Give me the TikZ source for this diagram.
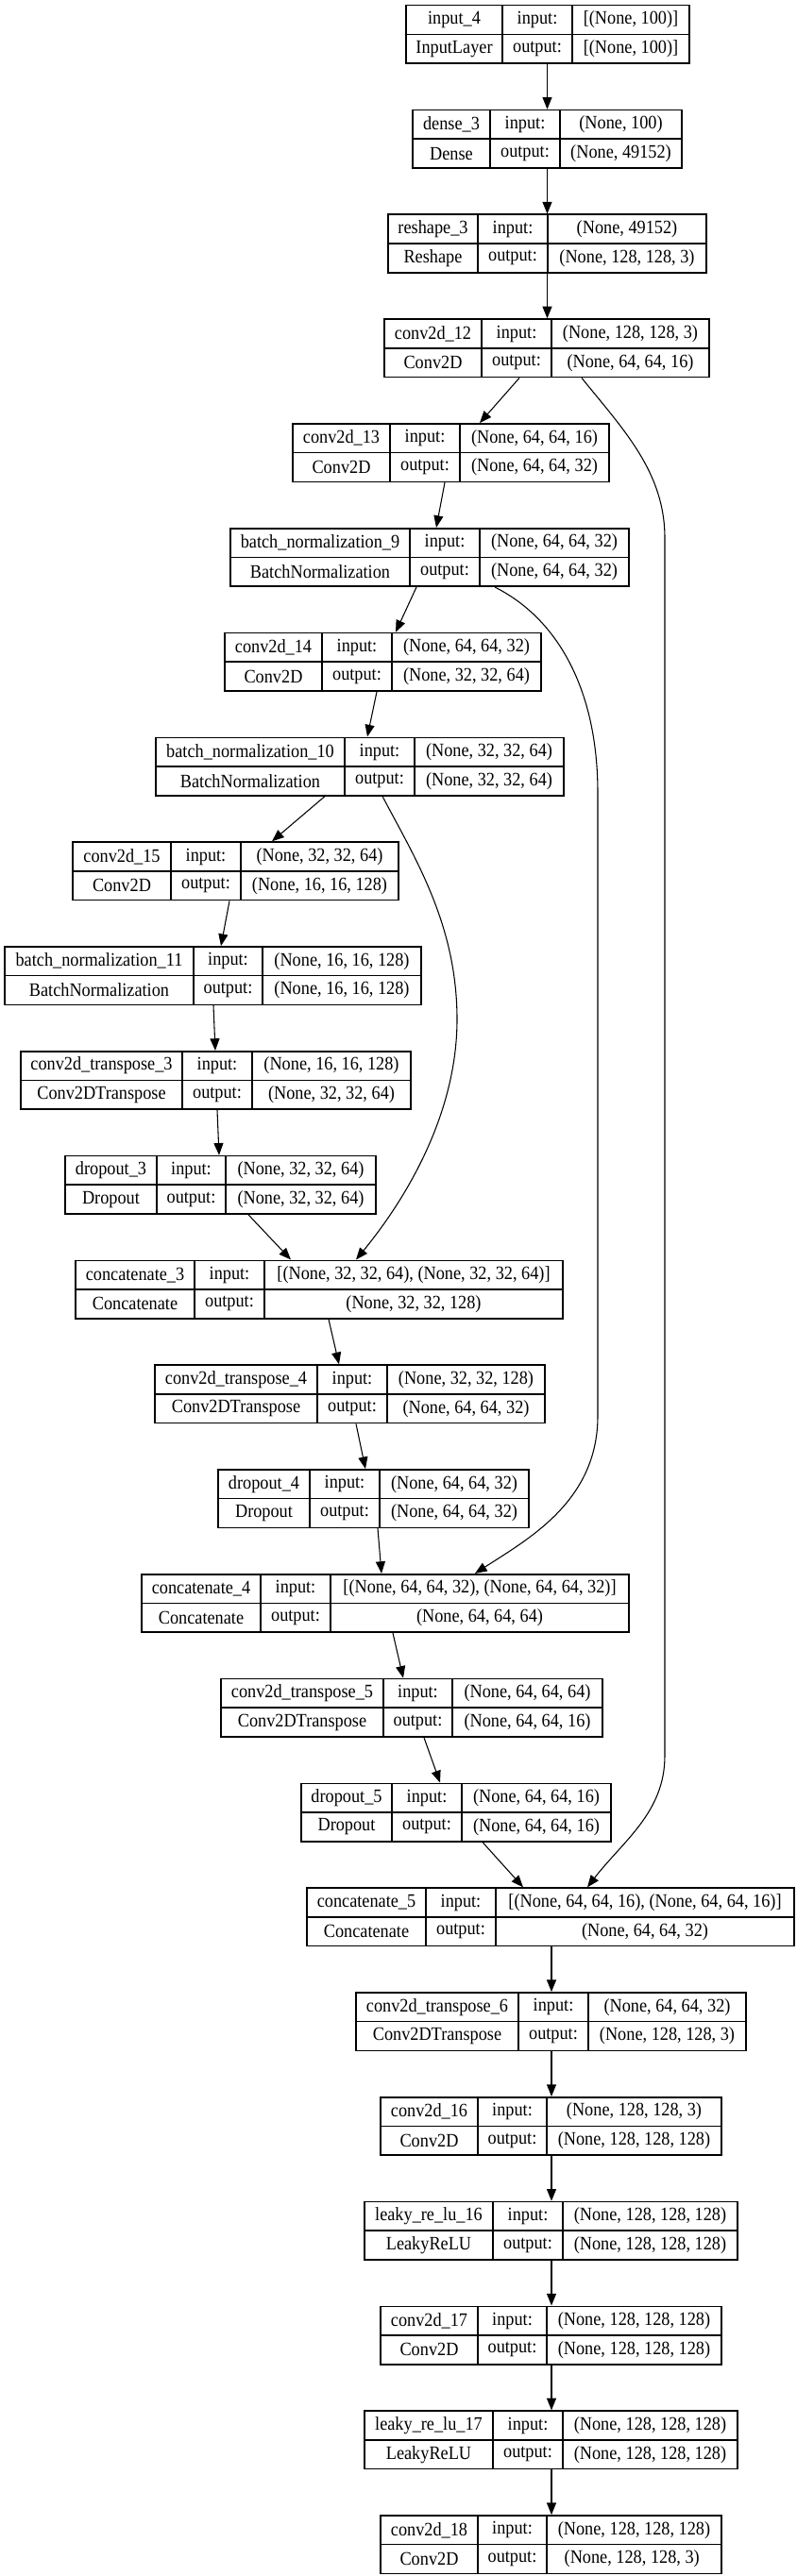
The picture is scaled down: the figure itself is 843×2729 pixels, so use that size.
\documentclass[tikz,border=0pt]{standalone}
\usepackage{fontspec}
\setmainfont{Liberation Serif}
\usetikzlibrary{arrows.meta,positioning,calc,fit}
\tikzset{
  layer/.style={draw,line width=1.2pt,inner sep=0pt},
  cell/.style={line width=1.2pt},
  txt/.style={font=\fontsize{13.7}{16}\selectfont,inner sep=0pt},
  edge/.style={line width=0.8pt,-{Triangle[length=9.5pt,width=7.5pt]}}
}
\newcommand\tallt[1]{\scalebox{1}[1.1]{#1}}
\begin{document}
\begin{tikzpicture}[x=0.75pt,y=0.75pt]
\useasboundingbox (0,0) rectangle (843,-2729);
\foreach \id/\row/\xl/\xa/\xb/\xr/\nm/\cl/\inp/\outp in {
input4/1/430/532/606/730/input\_4/InputLayer/{[(None, 100)]}/{[(None, 100)]},
dense3/2/437/519/593/722/dense\_3/Dense/{(None, 100)}/{(None, 49152)},
reshape3/3/411/506/580/748/reshape\_3/Reshape/{(None, 49152)}/{(None, 128, 128, 3)},
conv12/4/407/510/584/751/conv2d\_12/Conv2D/{(None, 128, 128, 3)}/{(None, 64, 64, 16)},
conv13/5/310/413/487/645/conv2d\_13/Conv2D/{(None, 64, 64, 16)}/{(None, 64, 64, 32)},
bn9/6/244/434/508/666/batch\_normalization\_9/BatchNormalization/{(None, 64, 64, 32)}/{(None, 64, 64, 32)},
conv14/7/238/341/415/573/conv2d\_14/Conv2D/{(None, 64, 64, 32)}/{(None, 32, 32, 64)},
bn10/8/165/365/439/597/batch\_normalization\_10/BatchNormalization/{(None, 32, 32, 64)}/{(None, 32, 32, 64)},
conv15/9/77/181/255/422/conv2d\_15/Conv2D/{(None, 32, 32, 64)}/{(None, 16, 16, 128)},
bn11/10/5/205/278/446/batch\_normalization\_11/BatchNormalization/{(None, 16, 16, 128)}/{(None, 16, 16, 128)},
convt3/11/22/193/267/435/conv2d\_transpose\_3/Conv2DTranspose/{(None, 16, 16, 128)}/{(None, 32, 32, 64)},
drop3/12/69/166/239/398/dropout\_3/Dropout/{(None, 32, 32, 64)}/{(None, 32, 32, 64)},
cat3/13/80/206/280/596/concatenate\_3/Concatenate/{[(None, 32, 32, 64), (None, 32, 32, 64)]}/{(None, 32, 32, 128)},
convt4/14/164/336/410/577/conv2d\_transpose\_4/Conv2DTranspose/{(None, 32, 32, 128)}/{(None, 64, 64, 32)},
drop4/15/231/328/402/560/dropout\_4/Dropout/{(None, 64, 64, 32)}/{(None, 64, 64, 32)},
cat4/16/150/276/350/666/concatenate\_4/Concatenate/{[(None, 64, 64, 32), (None, 64, 64, 32)]}/{(None, 64, 64, 64)},
convt5/17/234/406/479/638/conv2d\_transpose\_5/Conv2DTranspose/{(None, 64, 64, 64)}/{(None, 64, 64, 16)},
drop5/18/319/415/489/647/dropout\_5/Dropout/{(None, 64, 64, 16)}/{(None, 64, 64, 16)},
cat5/19/325/451/525/841/concatenate\_5/Concatenate/{[(None, 64, 64, 16), (None, 64, 64, 16)]}/{(None, 64, 64, 32)},
convt6/20/377/549/623/790/conv2d\_transpose\_6/Conv2DTranspose/{(None, 64, 64, 32)}/{(None, 128, 128, 3)},
conv16/21/403/506/579/764/conv2d\_16/Conv2D/{(None, 128, 128, 3)}/{(None, 128, 128, 128)},
leaky16/22/386/522/596/781/leaky\_re\_lu\_16/LeakyReLU/{(None, 128, 128, 128)}/{(None, 128, 128, 128)},
conv17/23/403/506/579/764/conv2d\_17/Conv2D/{(None, 128, 128, 128)}/{(None, 128, 128, 128)},
leaky17/24/386/522/596/781/leaky\_re\_lu\_17/LeakyReLU/{(None, 128, 128, 128)}/{(None, 128, 128, 128)},
conv18/25/403/506/579/764/conv2d\_18/Conv2D/{(None, 128, 128, 128)}/{(None, 128, 128, 3)}
}{
\pgfmathsetmacro\yt{-5.7-110.8*(\row-1)}
\pgfmathsetmacro\yb{\yt-61.5}
\pgfmathsetmacro\ym{\yt-30.75}
\pgfmathsetmacro\yu{\yt-15.4}
\pgfmathsetmacro\yl{\yt-46.1}
\node[layer,fit={(\xl,\yt) (\xr,\yb)}] (\id) {};
\draw[cell] (\xl,\ym) -- (\xr,\ym) (\xa,\yt) -- (\xa,\yb) (\xb,\yt) -- (\xb,\yb);
\node[txt] (\id-n) at ({(\xl+\xa)/2},\yu) {\tallt{\nm}};
\node[txt] (\id-c) at ({(\xl+\xa)/2},\yl) {\tallt{\cl}};
\node[txt] (\id-il) at ({(\xa+\xb)/2},\yu) {\tallt{input:}};
\node[txt] (\id-ol) at ({(\xa+\xb)/2},\yl) {\tallt{output:}};
\node[txt] (\id-iv) at ({(\xb+\xr)/2},\yu) {\tallt{\inp}};
\node[txt] (\id-ov) at ({(\xb+\xr)/2},\yl) {\tallt{\outp}};
}
\draw[edge] (input4.south -| 579.5,0) -- (dense3.north -| 579.5,0);
\draw[edge] (dense3.south -| 579.5,0) -- (reshape3.north -| 579.5,0);
\draw[edge] (reshape3.south -| 579.5,0) -- (conv12.north -| 579.5,0);
\draw[edge] (conv12.south -| 550,0) -- (conv13.north -| 508,0);
\draw[edge] (conv13.south -| 471,0) -- (bn9.north -| 462,0);
\draw[edge] (bn9.south -| 441,0) -- (conv14.north -| 419,0);
\draw[edge] (conv14.south -| 399,0) -- (bn10.north -| 389,0);
\draw[edge] (bn10.south -| 344,0) -- (conv15.north -| 288,0);
\draw[edge] (conv15.south -| 243,0) -- (bn11.north -| 234,0);
\draw[edge] (bn11.south -| 226,0) -- (convt3.north -| 228,0);
\draw[edge] (convt3.south -| 230,0) -- (drop3.north -| 232,0);
\draw[edge] (drop3.south -| 263,0) -- (cat3.north -| 308,0);
\draw[edge] (bn10.south -| 405,0) .. controls (440,-910) and (484,-980) .. (484,-1080) .. controls (484,-1180) and (430,-1270) .. (cat3.north -| 377,0);
\draw[edge] (cat3.south -| 348,0) -- (convt4.north -| 359,0);
\draw[edge] (convt4.south -| 377,0) -- (drop4.north -| 387,0);
\draw[edge] (drop4.south -| 400,0) -- (cat4.north -| 404,0);
\draw[edge] (bn9.south -| 524,0) .. controls (590,-655) and (633,-730) .. (633,-840) -- (633,-1500) .. controls (633,-1590) and (560,-1630) .. (cat4.north -| 503,0);
\draw[edge] (cat4.south -| 416,0) -- (convt5.north -| 427,0);
\draw[edge] (convt5.south -| 449,0) -- (drop5.north -| 466,0);
\draw[edge] (drop5.south -| 511,0) -- (cat5.north -| 554,0);
\draw[edge] (conv12.south -| 616,0) .. controls (660,-455) and (704,-500) .. (704,-570) -- (704,-1860) .. controls (704,-1920) and (660,-1950) .. (cat5.north -| 622,0);
\draw[edge] (cat5.south -| 584,0) -- (convt6.north -| 584,0);
\draw[edge] (convt6.south -| 584,0) -- (conv16.north -| 584,0);
\draw[edge] (conv16.south -| 584,0) -- (leaky16.north -| 584,0);
\draw[edge] (leaky16.south -| 584,0) -- (conv17.north -| 584,0);
\draw[edge] (conv17.south -| 584,0) -- (leaky17.north -| 584,0);
\draw[edge] (leaky17.south -| 584,0) -- (conv18.north -| 584,0);
\end{tikzpicture}
\end{document}
